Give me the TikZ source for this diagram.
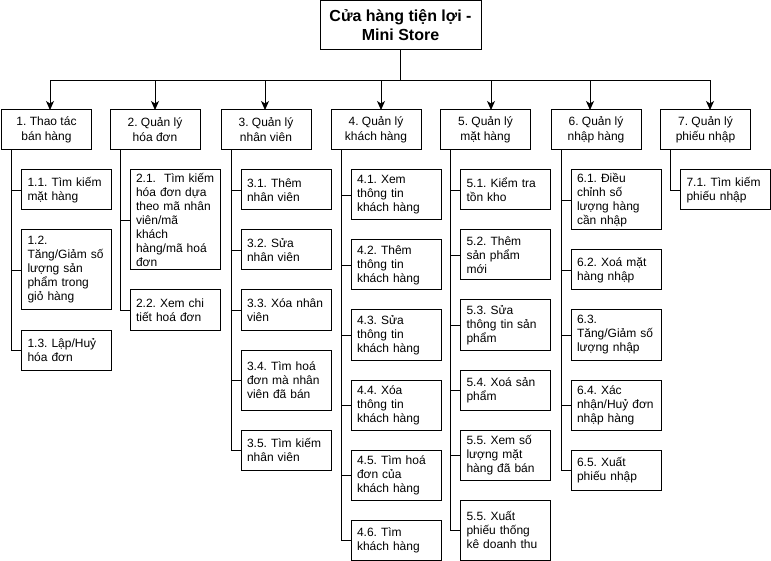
\documentclass[tikz,border=0pt]{standalone}
\usepackage{fontspec}
\setmainfont{Liberation Sans}
\usetikzlibrary{arrows.meta}
\begin{document}
\frenchspacing
\begin{tikzpicture}[x=1pt,y=-1pt,
  rootbox/.style={draw, line width=1pt, minimum width=161pt, minimum height=49pt, inner sep=0pt, align=center, font=\fontsize{16}{19}\selectfont\bfseries\frenchspacing},
  topbox/.style={draw, line width=1pt, minimum width=90pt, minimum height=40pt, inner sep=0pt, align=center, font=\fontsize{12}{15}\selectfont\frenchspacing},
  subbox/.style={draw, line width=1pt, text width=78pt, inner xsep=6pt, inner ysep=0pt, align=left, font=\fontsize{12}{14}\selectfont\frenchspacing},
  arr/.style={line width=1pt, -{Stealth[length=9pt,width=8pt,inset=2.5pt]}},
  link/.style={line width=0.9pt}]
\useasboundingbox (0,0) rectangle (771,561);

\node[rootbox] (root) at (400.5,25.5) {Cửa hàng tiện lợi -\\Mini Store};

\node[topbox] (p1) at (46.5,130) {1. Thao tác\\bán hàng};
\node[topbox] (p2) at (155,130) {2. Quản lý\\hóa đơn};
\node[topbox] (p3) at (266,130) {3. Quản lý\\nhân viên};
\node[topbox] (p4) at (376,130) {4. Quản lý\\khách hàng};
\node[topbox] (p5) at (485.5,130) {5. Quản lý\\mặt hàng};
\node[topbox] (p6) at (596,130) {6. Quản lý\\nhập hàng};
\node[topbox] (p7) at (705.5,130) {7. Quản lý\\phiếu nhập};

\coordinate (a1) at (50,110);
\coordinate (a2) at (155,110);
\coordinate (a3) at (265,110);
\coordinate (a4) at (381,110);
\coordinate (a5) at (491,110);
\coordinate (a6) at (590,110);
\coordinate (a7) at (710,110);
\foreach \a in {a1,a2,a3,a4,a5,a6,a7}
  \draw[arr] (root.south) -- ++(0,30) -| (\a);

\coordinate (t1) at (11.5,0);
\coordinate (t2) at (120,0);
\coordinate (t3) at (231,0);
\coordinate (t4) at (341,0);
\coordinate (t5) at (450.5,0);
\coordinate (t6) at (561,0);
\coordinate (t7) at (670.5,0);

% column 1
\node[subbox, minimum height=40pt] (c11) at (66.5,190) {1.1. Tìm kiếm\\mặt hàng};
\node[subbox, minimum height=80pt] (c12) at (66.5,270) {1.2.\\Tăng/Giảm số\\lượng sản\\phẩm trong\\giỏ hàng};
\node[subbox, minimum height=40pt] (c13) at (66.5,350) {1.3. Lập/Huỷ\\hóa đơn};
% column 2
\node[subbox, minimum height=100pt] (c21) at (175,220) {\mbox{2.1.\ \ Tìm kiếm}\\hóa đơn dựa\\theo mã nhân\\viên/mã\\khách\\hàng/mã hoá\\đơn};
\node[subbox, minimum height=40pt] (c22) at (175,310) {2.2. Xem chi\\tiết hoá đơn};
% column 3
\node[subbox, minimum height=40pt] (c31) at (286,190) {3.1. Thêm\\nhân viên};
\node[subbox, minimum height=40pt] (c32) at (286,250) {3.2. Sửa\\nhân viên};
\node[subbox, minimum height=40pt] (c33) at (286,310) {3.3. Xóa nhân\\viên};
\node[subbox, minimum height=60pt] (c34) at (286,380) {3.4. Tìm hoá\\đơn mà nhân\\viên đã bán};
\node[subbox, minimum height=40pt] (c35) at (286,450) {3.5. Tìm kiếm\\nhân viên};
% column 4
\node[subbox, minimum height=50pt] (c41) at (396,195) {4.1. Xem\\thông tin\\khách hàng};
\node[subbox, minimum height=50pt] (c42) at (396,265) {4.2. Thêm\\thông tin\\khách hàng};
\node[subbox, minimum height=50pt] (c43) at (396,335) {4.3. Sửa\\thông tin\\khách hàng};
\node[subbox, minimum height=50pt] (c44) at (396,405) {4.4. Xóa\\thông tin\\khách hàng};
\node[subbox, minimum height=50pt] (c45) at (396,475) {4.5. Tìm hoá\\đơn của\\khách hàng};
\node[subbox, minimum height=40pt] (c46) at (396,540) {4.6. Tìm\\khách hàng};
% column 5
\node[subbox, minimum height=40pt] (c51) at (505.5,190) {5.1. Kiểm tra\\tồn kho};
\node[subbox, minimum height=50pt] (c52) at (505.5,255) {5.2. Thêm\\sản phẩm\\mới};
\node[subbox, minimum height=50pt] (c53) at (505.5,325) {5.3. Sửa\\thông tin sản\\phẩm};
\node[subbox, minimum height=40pt] (c54) at (505.5,390) {5.4. Xoá sản\\phẩm};
\node[subbox, minimum height=50pt] (c55) at (505.5,455) {5.5. Xem số\\lượng mặt\\hàng đã bán};
\node[subbox, minimum height=60pt] (c56) at (505.5,530) {5.5. Xuất\\phiếu thống\\kê doanh thu};
% column 6
\node[subbox, minimum height=60pt] (c61) at (616,200) {6.1. Điều\\chỉnh số\\lượng hàng\\cần nhập};
\node[subbox, minimum height=40pt] (c62) at (616,270) {6.2. Xoá mặt\\hàng nhập};
\node[subbox, minimum height=50pt] (c63) at (616,335) {6.3.\\Tăng/Giảm số\\lượng nhập};
\node[subbox, minimum height=50pt] (c64) at (616,405) {6.4. Xác\\nhận/Huỷ đơn\\nhập hàng};
\node[subbox, minimum height=40pt] (c65) at (616,470) {6.5. Xuất\\phiếu nhập};
% column 7
\node[subbox, minimum height=40pt] (c71) at (725.5,190) {7.1. Tìm kiếm\\phiếu nhập};

\foreach \c in {c11,c12,c13} \draw[link] (p1.south -| t1) |- (\c.west);
\foreach \c in {c21,c22} \draw[link] (p2.south -| t2) |- (\c.west);
\foreach \c in {c31,c32,c33,c34,c35} \draw[link] (p3.south -| t3) |- (\c.west);
\foreach \c in {c41,c42,c43,c44,c45,c46} \draw[link] (p4.south -| t4) |- (\c.west);
\foreach \c in {c51,c52,c53,c54,c55,c56} \draw[link] (p5.south -| t5) |- (\c.west);
\foreach \c in {c61,c62,c63,c64,c65} \draw[link] (p6.south -| t6) |- (\c.west);
\foreach \c in {c71} \draw[link] (p7.south -| t7) |- (\c.west);
\end{tikzpicture}
\end{document}
